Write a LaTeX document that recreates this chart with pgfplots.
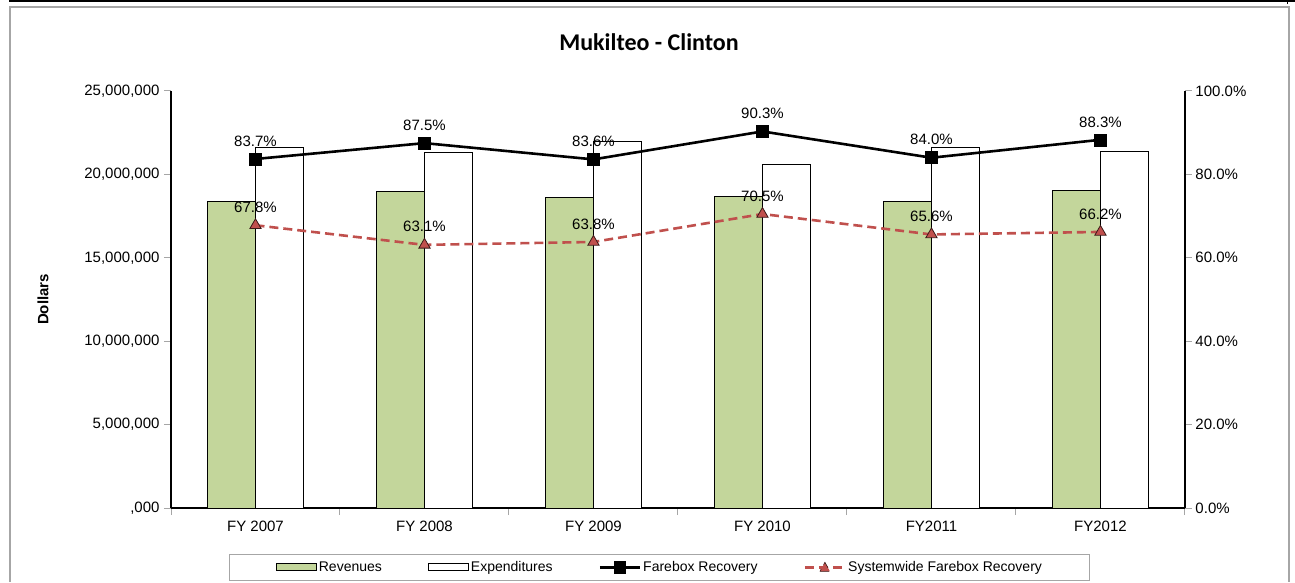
\documentclass[border=0pt]{standalone}
\usepackage{pgfplots}
\pgfplotsset{compat=1.18}
\usepackage{fontspec}
\setmainfont{Liberation Sans}
\newfontfamily\titlefont{Carlito}
\definecolor{revgreen}{HTML}{C3D69B}
\definecolor{sysred}{HTML}{C0504D}
\definecolor{framegray}{HTML}{A6A6A6}

\begin{document}
\begin{tikzpicture}[x=1pt,y=1pt]
\useasboundingbox (0,0) rectangle (1295,582);
% frame
\fill[black] (9,579.5) rectangle (1295,582);
\draw[black,line width=1pt] (1287,582) -- (1287,578);
\draw[framegray,line width=1.2pt] (10,0) -- (10,575) -- (1289,575) -- (1289,0);
\node[font=\titlefont\bfseries\fontsize{24}{28}\selectfont] at (649,540) {Mukilteo - Clinton};

\begin{axis}[
  at={(171pt,74pt)}, anchor=south west,
  width=1014pt, height=417pt, scale only axis,
  xmin=0, xmax=6, ymin=0, ymax=25000000,
  scaled y ticks=false,
  axis x line*=bottom, axis y line*=left,
  axis line style={black, line width=1.2pt, -},
  xtick={0,1,2,3,4,5,6},
  xticklabels={FY 2007,FY 2008,FY 2009,FY 2010,FY2011,FY2012},
  x tick label as interval,
  ytick={0,5000000,10000000,15000000,20000000,25000000},
  yticklabels={{,000},{5,000,000},{10,000,000},{15,000,000},{20,000,000},{25,000,000}},
  tick align=outside,
  major tick length=7pt,
  tick style={gray!70, line width=1pt},
  ticklabel style={font=\fontsize{15}{17}\selectfont, black},
  xticklabel style={yshift=-2pt},
  yticklabel style={xshift=-1pt},
  ylabel={\bfseries Dollars},
  every axis y label/.style={at={(axis description cs:-0.1262,0.5)}, rotate=90, anchor=center, font=\fontsize{15}{17}\selectfont},
  clip=false,
]
\addplot[ybar, bar width=48pt, bar shift=-24pt, fill=revgreen, draw=black, line width=1pt]
  coordinates {(0.5,18350000) (1.5,18950000) (2.5,18600000) (3.5,18700000) (4.5,18350000) (5.5,19050000)};
\addplot[ybar, bar width=48pt, bar shift=24pt, fill=white, draw=black, line width=1pt]
  coordinates {(0.5,21640000) (1.5,21340000) (2.5,22000000) (3.5,20620000) (4.5,21640000) (5.5,21400000)};
\end{axis}

\begin{axis}[
  at={(171pt,74pt)}, anchor=south west,
  width=1014pt, height=417pt, scale only axis,
  xmin=0, xmax=6, ymin=0, ymax=100,
  axis x line=none, axis y line*=right,
  axis line style={black, line width=1.2pt, -},
  ytick={0,20,40,60,80,100},
  yticklabels={0.0\%,20.0\%,40.0\%,60.0\%,80.0\%,100.0\%},
  tick align=outside,
  major tick length=7pt,
  tick style={gray!70, line width=1pt},
  ticklabel style={font=\fontsize{15}{17}\selectfont, black},
  clip=false,
  /pgf/number format/assume math mode=true,
  legend columns=4,
  legend style={at={(0.4822,-0.1103)}, anchor=north, draw=framegray, line width=1pt,
    font=\fontsize{14}{16}\selectfont, inner xsep=46pt, inner ysep=5pt,
    /tikz/every even column/.append style={column sep=44pt}},
  legend cell align=left,
  nodes near coords={\pgfmathprintnumber[fixed,precision=1,fixed zerofill,assume math mode=true]{\pgfplotspointmeta}\%},
  every node near coord/.append style={font=\fontsize{15}{17}\selectfont, black, anchor=south, yshift=9pt},
]
\addlegendimage{legend image code/.code={\draw[fill=revgreen,draw=black,line width=1pt] (0pt,-3.5pt) rectangle (40pt,3.5pt);}}
\addlegendentry{Revenues}
\addlegendimage{legend image code/.code={\draw[fill=white,draw=black,line width=1pt] (0pt,-3.5pt) rectangle (40pt,3.5pt);}}
\addlegendentry{Expenditures}
\addplot[black, line width=2.6pt, mark=square*, mark size=6pt, mark options={solid, line width=0.5pt},
  legend image code/.code={\draw[black,line width=2.6pt] (0pt,0pt) -- (40pt,0pt); \fill[black] (15pt,-5pt) rectangle (25pt,5pt);}]
  coordinates {(0.5,83.7) (1.5,87.5) (2.5,83.6) (3.5,90.3) (4.5,84.0) (5.5,88.3)};
\addlegendentry{Farebox Recovery}
\addplot[sysred, line width=2.6pt, dash pattern=on 9pt off 5pt, mark=triangle*, mark size=6.5pt,
  mark options={solid, fill=sysred, draw=black!70!sysred, line width=0.8pt},
  legend image code/.code={\draw[sysred,line width=2.6pt,dash pattern=on 9pt off 5pt] (0pt,0pt) -- (40pt,0pt); \draw[fill=sysred,draw=black!70!sysred,line width=0.6pt] (15pt,-4pt) -- (25pt,-4pt) -- (20pt,5pt) -- cycle;}]
  coordinates {(0.5,67.8) (1.5,63.1) (2.5,63.8) (3.5,70.5) (4.5,65.6) (5.5,66.2)};
\addlegendentry{Systemwide Farebox Recovery}
\end{axis}
\end{tikzpicture}
\end{document}
